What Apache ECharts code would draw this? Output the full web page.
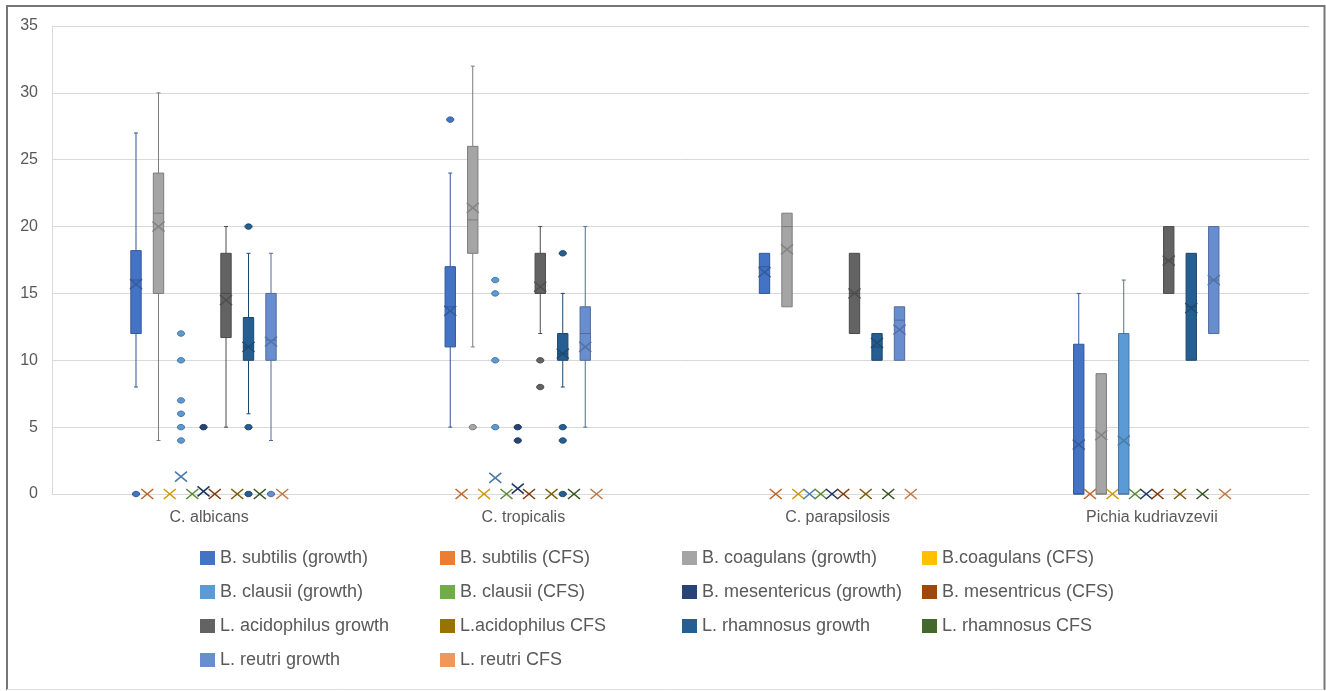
<!DOCTYPE html>
<html>
<head>
<meta charset="utf-8">
<script src="https://cdn.jsdelivr.net/npm/echarts@6/dist/echarts.min.js"></script>
<style>
html, body { margin: 0; padding: 0; background: #fff; }
#chart { width: 1326px; height: 691px; }
</style>
</head>
<body>
<div id="chart"></div>
<script>
// x categories
const categories = ['C. albicans', 'C. tropicalis', 'C. parapsilosis', 'Pichia kudriavzevii'];

// series names, in plotting order
const seriesNames = [
    'B. subtilis (growth)', 'B. subtilis (CFS)',
    'B. coagulans (growth)', 'B.coagulans (CFS)',
    'B. clausii (growth)', 'B. clausii (CFS)',
    'B. mesentericus (growth)', 'B. mesentricus (CFS)',
    'L. acidophilus growth', 'L.acidophilus CFS',
    'L. rhamnosus growth', 'L. rhamnosus CFS',
    'L. reutri growth', 'L. reutri CFS'
];

const seriesColors = [
    '#4472C4', '#ED7D31', '#A5A5A5', '#FFC000', '#5B9BD5', '#70AD47', '#264478',
    '#9E480E', '#636363', '#997300', '#255E91', '#43682B', '#698ED0', '#F1975A'
];

const yTicks = [0, 35, 5];   // min, max, step

// box values per category: [min, q1, median, q3, max, mean]
const subtilisGrowth = [[8, 12, 16, 18.2, 27, 15.7], [5, 11, 14, 17, 24, 13.7], [15, 15, 17, 18, 18, 16.6], [0, 0, 0, 11.2, 15, 3.7]];
const subtilisCfs = [[0, 0, 0, 0, 0, 0], [0, 0, 0, 0, 0, 0], [0, 0, 0, 0, 0, 0], [0, 0, 0, 0, 0, 0]];
const coagGrowth = [[4, 15, 21, 24, 30, 20], [11, 18, 20.5, 26, 32, 21.4], [14, 14, 20, 21, 21, 18.3], [0, 0, 0, 9, 9, 4.4]];
const coagCfs = [[0, 0, 0, 0, 0, 0], [0, 0, 0, 0, 0, 0], [0, 0, 0, 0, 0, 0], [0, 0, 0, 0, 0, 0]];
const clausiiGrowth = [[0, 0, 0, 0, 0, 1.3], [0, 0, 0, 0, 0, 1.2], [0, 0, 0, 0, 0, 0], [0, 0, 0, 12, 16, 4.0]];
const clausiiCfs = [[0, 0, 0, 0, 0, 0], [0, 0, 0, 0, 0, 0], [0, 0, 0, 0, 0, 0], [0, 0, 0, 0, 0, 0]];
const mesGrowth = [[0, 0, 0, 0, 0, 0.2], [0, 0, 0, 0, 0, 0.4], [0, 0, 0, 0, 0, 0], [0, 0, 0, 0, 0, 0]];
const mesCfs = [[0, 0, 0, 0, 0, 0], [0, 0, 0, 0, 0, 0], [0, 0, 0, 0, 0, 0], [0, 0, 0, 0, 0, 0]];
const acidGrowth = [[5, 11.7, 15, 18, 20, 14.5], [12, 15, 15, 18, 20, 15.5], [12, 12, 15, 18, 18, 15], [15, 15, 17.5, 20, 20, 17.45]];
const acidCfs = [[0, 0, 0, 0, 0, 0], [0, 0, 0, 0, 0, 0], [0, 0, 0, 0, 0, 0], [0, 0, 0, 0, 0, 0]];
const rhamGrowth = [[6, 10, 11, 13.2, 18, 11.0], [8, 10, 10.5, 12, 15, 10.5], [10, 10, 11, 12, 12, 11.3], [10, 10, 14, 18, 18, 13.9]];
const rhamCfs = [[0, 0, 0, 0, 0, 0], [0, 0, 0, 0, 0, 0], [0, 0, 0, 0, 0, 0], [0, 0, 0, 0, 0, 0]];
const reutriGrowth = [[4, 10, 11.5, 15, 18, 11.4], [5, 10, 12, 14, 20, 11.0], [10, 10, 13, 14, 14, 12.3], [12, 12, 16, 20, 20, 16]];
const reutriCfs = [[0, 0, 0, 0, 0, 0], [0, 0, 0, 0, 0, 0], [0, 0, 0, 0, 0, 0], [0, 0, 0, 0, 0, 0]];

// outliers per category
const subtilisGrowthOut = [[0], [28], [], []];
const coagGrowthOut = [[], [5], [], []];
const clausiiGrowthOut = [[4, 5, 6, 7, 10, 12], [5, 10, 15, 16], [], []];
const mesGrowthOut = [[5], [4, 5], [], []];
const acidGrowthOut = [[], [10, 8], [], []];
const rhamGrowthOut = [[20, 5, 0], [18, 5, 4, 0], [], []];
const reutriGrowthOut = [[0], [], [], []];
const noOut = [[], [], [], []];

const boxData = [subtilisGrowth, subtilisCfs, coagGrowth, coagCfs, clausiiGrowth, clausiiCfs, mesGrowth,
    mesCfs, acidGrowth, acidCfs, rhamGrowth, rhamCfs, reutriGrowth, reutriCfs];
const outlierData = [subtilisGrowthOut, noOut, coagGrowthOut, noOut, clausiiGrowthOut, noOut, mesGrowthOut,
    noOut, acidGrowthOut, noOut, rhamGrowthOut, noOut, reutriGrowthOut, noOut];

const textColor = '#595959';
const font = 'Liberation Sans';
const STEP = 0.0358;   // share of a category band per series

// darken a #rrggbb colour
function darker(c, k) {
    k = k || 0.75;
    const n = parseInt(c.slice(1), 16);
    const r = Math.round(((n >> 16) & 255) * k);
    const g = Math.round(((n >> 8) & 255) * k);
    const b = Math.round((n & 255) * k);
    return 'rgb(' + r + ',' + g + ',' + b + ')';
}

function seriesX(api, idx, cat) {
    const band = api.size([1, 0])[0];
    return api.coord([cat, 0])[0] + (idx - 6.5) * band * STEP;
}

function boxRenderer(idx) {
    const color = seriesColors[idx];
    const line = darker(color);
    const mark = darker(color, 0.8);
    return function (params, api) {
        const cat = api.value(0);
        const band = api.size([1, 0])[0];
        const hw = band * STEP * 0.46;
        const x = seriesX(api, idx, cat);
        const y = i => api.coord([cat, api.value(i)])[1];
        const yMin = y(1), yQ1 = y(2), yMed = y(3), yQ3 = y(4), yMax = y(5), yMean = y(6);
        const children = [];
        const ln = (x1, y1, x2, y2, w, col) => children.push({
            type: 'line', shape: { x1, y1, x2, y2 },
            style: { stroke: col || line, lineWidth: w || 1 }
        });
        if (api.value(5) > api.value(4)) {
            ln(x, yMax, x, yQ3);
            ln(x - 2, yMax, x + 2, yMax);
        }
        if (api.value(1) < api.value(2)) {
            ln(x, yQ1, x, yMin);
            ln(x - 2, yMin, x + 2, yMin);
        }
        if (api.value(4) > api.value(2)) {
            children.push({
                type: 'rect',
                shape: { x: x - hw, y: yQ3, width: hw * 2, height: yQ1 - yQ3 },
                style: { fill: color, stroke: line, lineWidth: 1 }
            });
            ln(x - hw, yMed, x + hw, yMed, 1, line);
        }
        // mean marker
        ln(x - 6, yMean - 5, x + 6, yMean + 5, 1.6, mark);
        ln(x - 6, yMean + 5, x + 6, yMean - 5, 1.6, mark);
        return { type: 'group', children };
    };
}

function outlierRenderer(idx) {
    const color = seriesColors[idx];
    return function (params, api) {
        const cat = api.value(0);
        const x = seriesX(api, idx, cat);
        const y = api.coord([cat, api.value(1)])[1];
        return {
            type: 'ellipse',
            shape: { cx: x, cy: y, rx: 3.6, ry: 2.7 },
            style: { fill: color, stroke: darker(color), lineWidth: 1 }
        };
    };
}

const series = [];
seriesNames.forEach((name, idx) => {
    series.push({
        name,
        type: 'custom',
        renderItem: boxRenderer(idx),
        itemStyle: { color: seriesColors[idx] },
        encode: { x: 0, y: [1, 2, 3, 4, 5, 6] },
        data: boxData[idx].map((v, c) => [c].concat(v)),
        z: 3
    });
});
seriesNames.forEach((name, idx) => {
    const pts = [];
    outlierData[idx].forEach((list, c) => list.forEach(v => pts.push([c, v])));
    if (!pts.length) return;
    series.push({
        name,
        type: 'custom',
        renderItem: outlierRenderer(idx),
        itemStyle: { color: seriesColors[idx] },
        encode: { x: 0, y: 1 },
        data: pts,
        z: 4
    });
});

const legendBase = {
    orient: 'vertical',
    top: 543,
    icon: 'rect',
    itemWidth: 15,
    itemHeight: 14,
    itemGap: 14,
    selectedMode: false,
    textStyle: { color: textColor, fontSize: 18, fontFamily: font, lineHeight: 20 }
};

const chart = echarts.init(document.getElementById('chart'));
chart.setOption({
    animation: false,
    backgroundColor: '#fff',
    grid: { left: 52, right: 17, top: 26, bottom: 197 },
    legend: [
        Object.assign({ left: 195, data: [0, 4, 8, 12].map(i => seriesNames[i]) }, legendBase),
        Object.assign({ left: 435, data: [1, 5, 9, 13].map(i => seriesNames[i]) }, legendBase),
        Object.assign({ left: 677, data: [2, 6, 10].map(i => seriesNames[i]) }, legendBase),
        Object.assign({ left: 917, data: [3, 7, 11].map(i => seriesNames[i]) }, legendBase)
    ],
    xAxis: {
        type: 'category',
        data: categories,
        axisTick: { show: false },
        axisLine: { lineStyle: { color: '#d9d9d9' } },
        axisLabel: { color: textColor, fontSize: 16, fontFamily: font, margin: 16 }
    },
    yAxis: {
        type: 'value',
        min: yTicks[0],
        max: yTicks[1],
        interval: yTicks[2],
        axisLine: { show: true, lineStyle: { color: '#d9d9d9' } },
        axisTick: { show: false },
        splitLine: { lineStyle: { color: '#d9d9d9' } },
        axisLabel: { color: textColor, fontSize: 16, fontFamily: font, margin: 14 }
    },
    graphic: [
        { type: 'polyline', shape: { points: [[7, 690], [7, 6], [1324.5, 6], [1324.5, 690]] },
          style: { stroke: '#767676', lineWidth: 2, fill: null }, silent: true },
        { type: 'line', shape: { x1: 7, y1: 689.5, x2: 1324, y2: 689.5 },
          style: { stroke: '#dedede', lineWidth: 1 }, silent: true }
    ],
    series
});
</script>
</body>
</html>
